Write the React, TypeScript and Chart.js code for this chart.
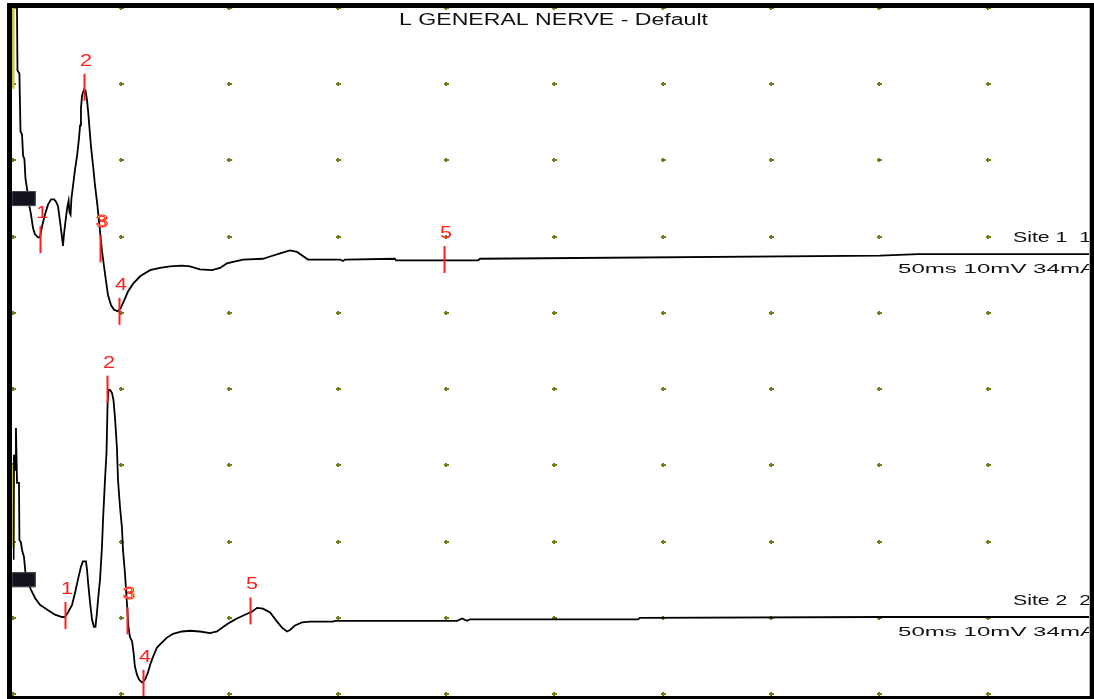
import React, { useEffect, useRef } from "react";
import { Chart, registerables } from "chart.js";

Chart.register(...registerables);

// ---- text ----
const TITLE = "L GENERAL NERVE - Default";
const SITE_LABELS = ["Site 1  1", "Site 2  2"];
const SETTINGS_LABEL = "50ms 10mV 34mA";
const MARKER_LABELS = ["1", "2", "3", "4", "5"];

// ---- axes (ms horizontally, mV vertically, 5 ms/div, 10 mV/div) ----
const X_MAX_MS = 49.72;
const X_DIV_MS = 5;
const Y_DIV_MV = 10;
const Y_DIVS = 9;
const TRACE_OFFSETS = [65, 15]; // baseline position of each trace (mV on screen)

// ---- trace 1 (Site 1) ----
const TRACE1_T = [
  0, 0.18, 0.22, 0.31, 0.36, 0.43, 0.48, 0.54, 0.59, 0.66, 0.75, 0.84, 0.94, 1.03, 1.17, 1.26,
  1.35, 1.49, 1.63, 1.77, 1.91, 2.0, 2.09, 2.18, 2.28, 2.32, 2.37, 2.44, 2.51, 2.58, 2.62, 2.67,
  2.71, 2.78, 2.88, 2.97, 3.06, 3.11, 3.15, 3.2, 3.29, 3.36, 3.43, 3.48, 3.54, 3.61, 3.71, 3.8,
  3.91, 4.03, 4.12, 4.21, 4.31, 4.4, 4.54, 4.68, 4.86, 4.98, 5.14, 5.32, 5.55, 5.88, 6.34, 6.8,
  7.26, 7.81, 8.18, 8.64, 9.2, 9.57, 9.89, 10.17, 10.63, 11.55, 11.88, 12.34, 12.8, 13.12, 13.63,
  15.11, 15.24, 15.34, 17.64, 17.69, 21.48, 21.57, 40.03, 41.78, 49.72,
];
const TRACE1_V = [
  31.5, 31.5, 16.8, 16.4, 8.8, 8.4, 5.6, 5.2, 2.6, 1.3, -0.7, -2.0, -3.9, -4.7, -5.1, -5.1,
  -3.7, -2.1, -0.8, -0.1, -0.1, -0.4, -1.0, -2.9, -5.2, -6.2, -4.6, -2.9, -1.3, -0.3, -1.8, -2.1,
  0, 1.6, 3.9, 5.6, 7.9, 9.6, 11.8, 13.5, 14.3, 14.2, 12.9, 11.5, 9.4, 6.9, 4.3, 1.7,
  -0.9, -4.3, -6.9, -8.8, -10.9, -12.7, -14.0, -14.6, -14.8, -14.4, -13.4, -12.2, -11.2, -10.2, -9.4, -9.1,
  -8.9, -8.8, -8.9, -9.3, -9.4, -9.1, -8.5, -8.3, -8.0, -7.9, -7.6, -7.2, -6.8, -7.0, -8.0,
  -8.0, -8.2, -8.0, -7.9, -8.1, -8.1, -7.9, -7.5, -7.3, -7.3,
];

// ---- trace 2 (Site 2) ----
const TRACE2_T = [
  0.04, 0.06, 0.11, 0.15, 0.2, 0.29, 0.31, 0.38, 0.43, 0.52, 0.59, 0.71, 0.84, 1.03, 1.26, 1.58,
  1.95, 2.28, 2.41, 2.55, 2.74, 2.88, 3.01, 3.15, 3.24, 3.38, 3.43, 3.48, 3.57, 3.66, 3.75, 3.82,
  3.89, 3.94, 4.03, 4.12, 4.17, 4.26, 4.33, 4.38, 4.42, 4.49, 4.58, 4.65, 4.72, 4.81, 4.86, 4.95,
  5.04, 5.09, 5.18, 5.27, 5.34, 5.41, 5.51, 5.58, 5.64, 5.74, 5.83, 5.97, 6.11, 6.24, 6.34, 6.48,
  6.66, 6.8, 7.12, 7.4, 7.81, 8.18, 8.64, 9.11, 9.43, 9.71, 10.03, 10.35, 10.72, 11.04, 11.28, 11.55,
  11.88, 12.2, 12.43, 12.66, 12.8, 13.03, 13.35, 13.72, 14.78, 14.88, 20.51, 20.74, 20.96, 21.11,
  28.86, 28.95, 40.03, 49.72,
];
const TRACE2_V = [
  2.6, 16.4, 14.4, 19.9, 12.7, 12.7, 5.2, 4.9, 3.9, 3.0, 0.9, -0.3, -1.3, -2.4, -3.3, -3.9,
  -4.6, -4.9, -4.9, -4.3, -3.3, -1.7, 0, 1.7, 2.4, 2.4, 1.3, -0.4, -3.0, -5.2, -6.2, -6.2,
  -4.3, -2.6, 0, 4.3, 7.9, 13.1, 16.7, 23.2, 24.9, 24.9, 24.5, 23.6, 21.3, 17.3, 13.1, 9.6,
  6.9, 3.9, 0.9, -3.0, -6.2, -7.5, -8.1, -9.6, -11.4, -12.5, -13.1, -13.5, -13.1, -12.2, -11.2, -10.1,
  -8.9, -8.5, -7.6, -7.1, -6.8, -6.7, -6.8, -7.0, -6.8, -6.2, -5.6, -5.1, -4.6, -4.2, -3.7, -3.8,
  -4.3, -5.5, -6.3, -6.8, -6.6, -6.0, -5.6, -5.5, -5.5, -5.4, -5.4, -5.1, -5.4, -5.2,
  -5.2, -5.0, -4.9, -4.9,
];

// ---- latency markers ----
const MARKERS1_T = [1.26, 3.29, 4.03, 4.91, 19.9];
const MARKERS1_V = [-5.4, 14.6, -6.6, -14.8, -8.0];
const MARKERS2_T = [2.41, 4.35, 5.28, 6.01, 10.95];
const MARKERS2_V = [-4.7, 25.0, -5.4, -13.6, -4.1];

// ---- stimulus indicator spans (mV relative to baseline) ----
const STIM1_V = [25.3, 14.4];
const STIM2_V = [15.05, 4.2];

const TRACES = [
  { t: TRACE1_T, v: TRACE1_V, mt: MARKERS1_T, mv: MARKERS1_V, stim: STIM1_V },
  { t: TRACE2_T, v: TRACE2_V, mt: MARKERS2_T, mv: MARKERS2_V, stim: STIM2_V },
];

const FONT = "'Liberation Sans', Arial, sans-serif";

function drawStretched(
  ctx: CanvasRenderingContext2D,
  text: string,
  x: number,
  y: number,
  size: number,
  sx: number,
  align: "left" | "center",
  fill: string,
  stroke?: string
) {
  ctx.save();
  ctx.font = `${size}px ${FONT}`;
  const w = ctx.measureText(text).width * sx;
  const left = align === "center" ? x - w / 2 : x;
  ctx.translate(left, y);
  ctx.scale(sx, 1);
  ctx.textAlign = "left";
  ctx.textBaseline = "alphabetic";
  ctx.fillStyle = fill;
  ctx.fillText(text, 0, 0);
  if (stroke) {
    ctx.strokeStyle = stroke;
    ctx.lineWidth = 0.9;
    ctx.strokeText(text, 0, 0);
  }
  ctx.restore();
}

function fitWidth(ctx: CanvasRenderingContext2D, text: string, size: number, target: number) {
  ctx.save();
  ctx.font = `${size}px ${FONT}`;
  const w = ctx.measureText(text).width;
  ctx.restore();
  return target / w;
}

const nervePlugin = {
  id: "nerve",
  beforeDatasetsDraw(chart: any) {
    const { ctx } = chart;
    const xs = chart.scales.x;
    const ys = chart.scales.y;
    ctx.save();
    ctx.fillStyle = "#7a7a1c";
    for (let i = 0; i <= Y_DIVS; i++) {
      const py = Math.round(ys.getPixelForValue(i * Y_DIV_MV));
      for (let t = 0; t <= X_MAX_MS + 0.001; t += X_DIV_MS) {
        const px = Math.round(xs.getPixelForValue(t));
        ctx.fillRect(px - 2, py - 1, 5, 2);
        ctx.fillRect(px - 1, py - 2, 2, 4);
      }
    }
    // stimulus indicator
    ctx.strokeStyle = "#c8c048";
    ctx.lineWidth = 3;
    TRACES.forEach((tr, k) => {
      const off = TRACE_OFFSETS[k];
      const px = xs.getPixelForValue(0) + 0.3;
      ctx.beginPath();
      ctx.moveTo(px, ys.getPixelForValue(tr.stim[0] + off));
      ctx.lineTo(px, ys.getPixelForValue(tr.stim[1] + off));
      ctx.stroke();
    });
    ctx.restore();
  },
  afterDatasetsDraw(chart: any) {
    const { ctx } = chart;
    const xs = chart.scales.x;
    const ys = chart.scales.y;
    ctx.save();
    TRACES.forEach((tr, k) => {
      const off = TRACE_OFFSETS[k];
      // baseline handle
      const by = ys.getPixelForValue(off);
      const bx = xs.getPixelForValue(0);
      ctx.fillStyle = "#12131c";
      ctx.fillRect(bx - 1, by - 7.5, 24, 15);
      ctx.strokeStyle = "#4a4c5a";
      ctx.lineWidth = 1;
      ctx.strokeRect(bx - 0.5, by - 7, 23, 14);
      // markers
      tr.mt.forEach((t: number, i: number) => {
        const mx = Math.round(xs.getPixelForValue(t)) + 0.5;
        const my = ys.getPixelForValue(tr.mv[i] + off);
        const top = my - 13.5;
        ctx.strokeStyle = "#ff1e1e";
        ctx.lineWidth = 2;
        ctx.beginPath();
        ctx.moveTo(mx, top);
        ctx.lineTo(mx, my + 13.5);
        ctx.stroke();
        const lbl = MARKER_LABELS[i];
        if (lbl === "3") {
          drawStretched(ctx, lbl, mx + 1.5, top - 8, 16, 1.35, "center", "#ffff50", "#ff1e1e");
        } else {
          drawStretched(ctx, lbl, mx + 1.5, top - 8, 16, 1.35, "center", "#ff1e1e");
        }
      });
      // right side labels
      const endY = ys.getPixelForValue(tr.v[tr.v.length - 1] + off);
      const ss = fitWidth(ctx, SITE_LABELS[k], 14, 78);
      drawStretched(ctx, SITE_LABELS[k], 1013, endY - 12.5, 14, ss, "left", "#111");
      const s = fitWidth(ctx, SETTINGS_LABEL, 13, 198);
      drawStretched(ctx, SETTINGS_LABEL, 898, endY + 18.5, 13, s, "left", "#111");
    });
    // title
    const ts = fitWidth(ctx, TITLE, 16, 309);
    drawStretched(ctx, TITLE, 399, 25, 16, ts, "left", "#111");
    // frame
    ctx.fillStyle = "#000";
    ctx.fillRect(7, 3, 1087, 5);
    ctx.fillRect(7, 3, 5, 696);
    ctx.fillRect(1090, 3, 4, 696);
    ctx.fillRect(7, 696, 1087, 3);
    ctx.fillStyle = "#b4b4b4";
    ctx.fillRect(1089, 8, 1, 688);
    ctx.restore();
  },
};

export default function App() {
  const ref = useRef<HTMLCanvasElement>(null);
  useEffect(() => {
    const datasets = TRACES.map((tr, k) => ({
      label: SITE_LABELS[k],
      data: tr.t.map((t: number, i: number) => ({ x: t, y: tr.v[i] + TRACE_OFFSETS[k] })),
      borderColor: "#000000",
      borderWidth: 1.8,
      pointRadius: 0,
      tension: 0,
      fill: false,
    }));
    const chart = new Chart(ref.current as HTMLCanvasElement, {
      type: "line",
      data: { datasets },
      options: {
        responsive: false,
        animation: false,
        events: [],
        layout: { padding: { left: 12.7, right: 4, top: 8, bottom: 5 } },
        plugins: {
          legend: { display: false },
          tooltip: { enabled: false },
          title: { display: false },
        },
        scales: {
          x: { type: "linear", min: 0, max: X_MAX_MS, display: false },
          y: { type: "linear", min: 0, max: Y_DIVS * Y_DIV_MV, display: false },
        },
      },
      plugins: [nervePlugin],
    });
    return () => chart.destroy();
  }, []);
  return (
    <div style={{ position: "fixed", left: 0, top: 0, width: 1094, height: 699, background: "#fff" }}>
      <canvas ref={ref} width={1094} height={699} style={{ display: "block" }} />
    </div>
  );
}
